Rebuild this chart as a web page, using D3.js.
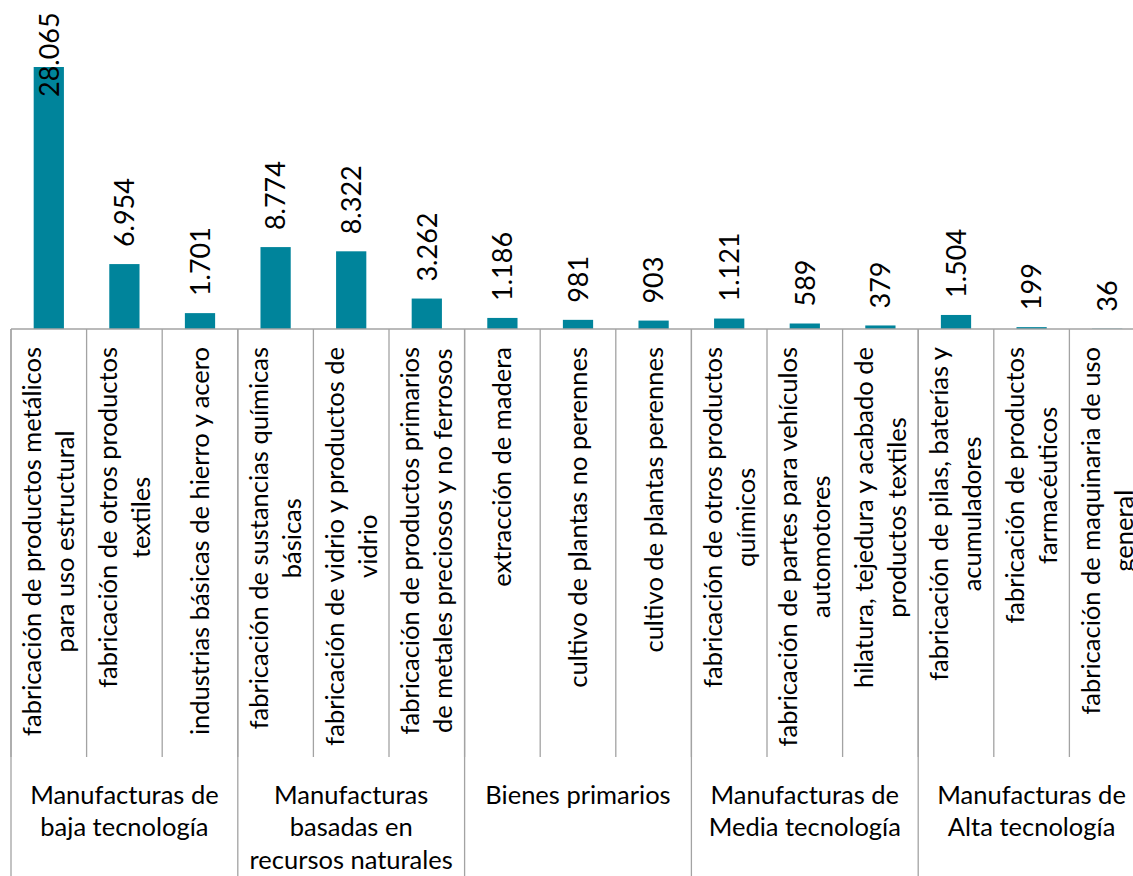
<!DOCTYPE html>
<html>
<head>
<meta charset="utf-8">
<script src="https://cdn.jsdelivr.net/npm/d3@7"></script>
<style>
html,body{margin:0;padding:0;background:#fff;}
svg{display:block;font-family:Lato,"Open Sans",sans-serif;}
</style>
</head>
<body>
<svg id="chart" width="1133" height="876"></svg>
<script>
const categories = [
  "fabricación de productos metálicos\npara uso estructural",
  "fabricación de otros productos\ntextiles",
  "industrias básicas de hierro y acero",
  "fabricación de sustancias químicas\nbásicas",
  "fabricación de vidrio y productos de\nvidrio",
  "fabricación de productos primarios\nde metales preciosos y no ferrosos",
  "extracción de madera",
  "cultivo de plantas no perennes",
  "cultivo de plantas perennes",
  "fabricación de otros productos\nquímicos",
  "fabricación de partes para vehículos\nautomotores",
  "hilatura, tejedura y acabado de\nproductos textiles",
  "fabricación de pilas, baterías y\nacumuladores",
  "fabricación de productos\nfarmacéuticos",
  "fabricación de maquinaria de uso\ngeneral"
];
const values = [28065, 6954, 1701, 8774, 8322, 3262, 1186, 981, 903, 1121, 589, 379, 1504, 199, 36];
const groups = [
  "Manufacturas de\nbaja tecnología",
  "Manufacturas\nbasadas en\nrecursos naturales",
  "Bienes primarios",
  "Manufacturas de\nMedia tecnología",
  "Manufacturas de\nAlta tecnología"
];
const groupSizes = [3, 3, 3, 3, 3];

const svg = d3.select("#chart");
const W = 1133, H = 876;
const axisY = 329, catBottom = 757;
const barColor = "#00849b";
const gridColor = "#a3a3a3";

const x = d3.scaleBand().domain(d3.range(categories.length))
  .range([11, 1145]).paddingInner(0.6).paddingOuter(0.3);
const step = x.step();
const x0 = 11;
const y = d3.scaleLinear().domain([0, 28065]).range([axisY, 67]);

const loc = d3.formatLocale({decimal: ",", thousands: ".", grouping: [3], currency: ["$", ""]});
const fmt = loc.format(",d");

// bars
svg.append("g").selectAll("rect").data(values).join("rect")
  .attr("x", (d, i) => x(i))
  .attr("width", x.bandwidth())
  .attr("y", d => y(d))
  .attr("height", d => axisY - y(d))
  .attr("fill", barColor);

// axis line
svg.append("line").attr("x1", x0).attr("x2", W).attr("y1", axisY).attr("y2", axisY)
  .attr("stroke", gridColor).attr("stroke-width", 1.3);

// category separators
const catBounds = d3.range(categories.length + 1).map(i => x0 + i * step);
svg.append("g").selectAll("line").data(catBounds).join("line")
  .attr("x1", d => d).attr("x2", d => d)
  .attr("y1", axisY).attr("y2", catBottom)
  .attr("stroke", gridColor).attr("stroke-width", 1.3);

// group separators
const groupStarts = [0];
groupSizes.forEach(s => groupStarts.push(groupStarts[groupStarts.length - 1] + s));
svg.append("g").selectAll("line").data(groupStarts).join("line")
  .attr("x1", d => x0 + d * step).attr("x2", d => x0 + d * step)
  .attr("y1", axisY).attr("y2", H)
  .attr("stroke", gridColor).attr("stroke-width", 1.3);

// value labels
const vl = svg.append("g").attr("font-size", 27).attr("fill", "#000");
values.forEach((v, i) => {
  const cx = x(i) + x.bandwidth() / 2;
  const t = vl.append("text")
    .attr("text-anchor", "start")
    .attr("dy", "0.36em")
    .text(fmt(v));
  const len = t.node().getComputedTextLength();
  let ys = y(v) - 17;
  if (ys - len < 5) ys = y(v) + 30;
  t.attr("transform", `translate(${cx},${ys}) rotate(-90)`);
});

// category labels
const cl = svg.append("g").attr("font-size", 25.5).attr("fill", "#000");
const lineH = 33;
categories.forEach((c, i) => {
  const lines = c.split("\n");
  const cx = x0 + i * step + step / 2;
  const g = cl.append("g");
  const texts = lines.map(l => g.append("text").attr("text-anchor", "middle").attr("dy", "0.35em").text(l));
  const maxW = d3.max(texts, t => t.node().getComputedTextLength());
  const cy = 347 + maxW / 2;
  texts.forEach((t, k) => {
    const off = (k - (lines.length - 1) / 2) * lineH;
    t.attr("transform", `translate(${cx + off},${cy}) rotate(-90)`);
  });
});

// group labels
const gl = svg.append("g").attr("font-size", 25.5).attr("fill", "#000");
groups.forEach((gname, gi) => {
  const start = groupStarts[gi], size = groupSizes[gi];
  const cx = x0 + (start + size / 2) * step;
  gname.split("\n").forEach((l, k) => {
    gl.append("text").attr("x", cx).attr("y", 795 + k * 32.5)
      .attr("dy", "0.35em").attr("text-anchor", "middle").text(l);
  });
});
</script>
</body>
</html>
